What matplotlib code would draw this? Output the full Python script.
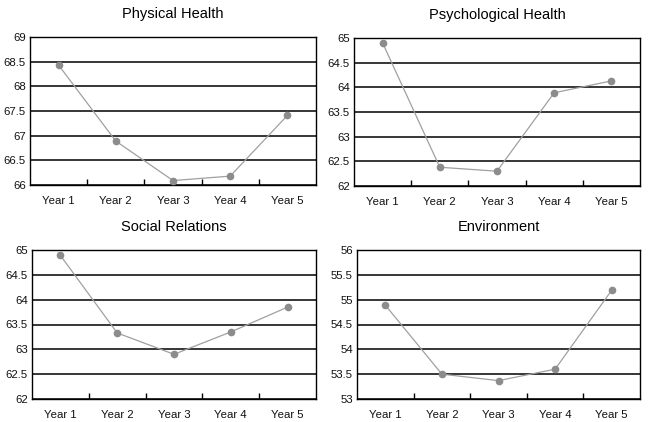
import numpy as np
import matplotlib.pyplot as plt
from matplotlib.ticker import FixedLocator

plt.rcParams['font.family'] = ['Liberation Sans', 'DejaVu Sans']

years = ['Year 1', 'Year 2', 'Year 3', 'Year 4', 'Year 5']

physical = [68.43, 66.89, 66.09, 66.18, 67.41]
psychological = [64.90, 62.38, 62.30, 63.89, 64.13]
social = [64.89, 63.33, 62.90, 63.35, 63.85]
environment = [54.89, 53.50, 53.37, 53.60, 55.19]

titles = ['Physical Health', 'Psychological Health', 'Social Relations', 'Environment']
series = [physical, psychological, social, environment]
ranges = [(66, 69), (62, 65), (62, 65), (53, 56)]

# axes boxes in pixels: left, top, right, bottom
W, H = 648, 422
boxes = [(30, 37, 316, 185), (354, 38, 640, 186),
         (32, 250, 316, 399), (357, 250, 640, 399)]

fig = plt.figure(figsize=(W / 100, H / 100), dpi=100)

for title, vals, (lo, hi), (l, t, r, b) in zip(titles, series, ranges, boxes):
    ax = fig.add_axes([l / W, 1 - b / H, (r - l) / W, (b - t) / H])
    x = np.arange(len(years))
    ax.plot(x, vals, color='#a0a0a0', lw=0.9, marker='o', ms=4.5,
            markerfacecolor='#8c8c8c', markeredgecolor='#8c8c8c', zorder=3)
    ax.set_xlim(-0.5, len(years) - 0.5)
    ax.set_ylim(lo, hi)
    ticks = np.arange(lo, hi + 0.01, 0.5)
    ax.set_yticks(ticks)
    ax.set_yticklabels([f'{v:g}' for v in ticks])
    ax.set_xticks(x)
    ax.set_xticklabels(years)
    ax.xaxis.set_minor_locator(FixedLocator(x[:-1] + 0.5))
    ax.tick_params(axis='x', which='major', length=0, pad=8, labelsize=8.2,
                   labelcolor='#111111')
    ax.tick_params(axis='x', which='minor', length=4, direction='in', width=1)
    ax.tick_params(axis='y', length=0, pad=3, labelsize=8.2, labelcolor='#111111')
    ax.grid(axis='y', color='black', lw=1.1)
    for s in ax.spines.values():
        s.set_color('black')
        s.set_linewidth(1.0)
    ax.set_title(title, fontsize=10.5, pad=14)

fig.savefig('out.png', dpi=100)
